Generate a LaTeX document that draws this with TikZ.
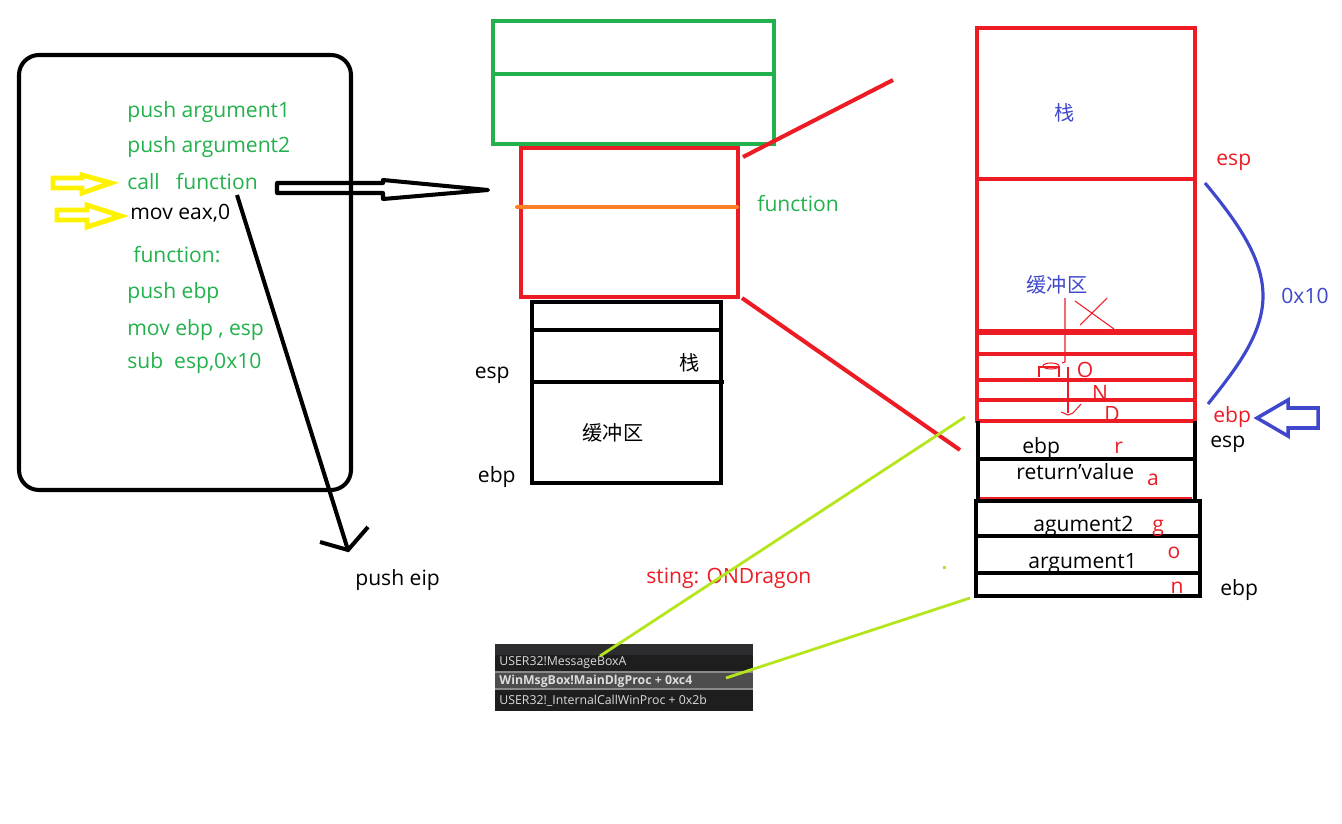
\documentclass[tikz,border=0pt]{standalone}
\usepackage{fontspec}
\setmainfont{Open Sans}
\newfontfamily\cjk{Noto Sans CJK SC}
\definecolor{pgreen}{HTML}{22B14C}
\definecolor{pred}{HTML}{ED1C24}
\definecolor{pblue}{HTML}{3F48CC}
\definecolor{porange}{HTML}{FF7F27}
\definecolor{plime}{HTML}{B5E61D}
\definecolor{pyellow}{HTML}{FFF200}
\definecolor{dbgbg}{HTML}{1E1E1E}
\definecolor{dbghead}{HTML}{2D2D30}
\definecolor{dbgsel}{HTML}{4D4D4D}
\definecolor{dbgline}{HTML}{8A8A8A}
\definecolor{dbgfg}{HTML}{DCDCDC}
\tikzset{
  pen/.style={line width=2.3pt},
  codetxt/.style={anchor=base west, inner sep=0pt, text=pgreen, font=\fontsize{12}{14}\selectfont},
  lbl/.style={inner sep=0pt, font=\fontsize{12}{14}\selectfont},
  redlbl/.style={lbl, text=pred},
  hanzi/.style={inner sep=0pt, font=\cjk\fontsize{11.5}{13}\selectfont},
  dbgrow/.style={anchor=west, inner sep=0pt, text=dbgfg, font=\fontsize{7}{8}\selectfont},
}
\begin{document}
\begin{tikzpicture}[x=0.02cm,y=-0.02cm]
  \useasboundingbox (0,0) rectangle (1342,824);
  % code listing
  \draw[pen, rounded corners=0.4cm] (19,55) rectangle (351,490);
  \node[codetxt] (pa1) at (127,118) {push argument1};
  \node[codetxt] (pa2) at (127,153) {push argument2};
  \node[codetxt] (cf) at (127,190) {call\ \ \ function};
  \node[codetxt, text=black] (mov) at (130,220) {mov eax,0};
  \node[codetxt] (fn) at (133,262) {function:};
  \node[codetxt] (pebp) at (127,298) {push ebp};
  \node[codetxt] (mebp) at (127,335) {mov ebp , esp};
  \node[codetxt] (sub) at (127,368) {sub\ \ esp,0x10};
  % yellow markers
  \draw[pyellow, line width=2.8pt] (53,178) -- (82,178) -- (82,175) -- (111,183) -- (82,193) -- (82,188) -- (53,188) -- cycle;
  \draw[pyellow, line width=2.8pt] (57,210) -- (87,210) -- (87,205) -- (121,216) -- (87,227) -- (87,220) -- (57,220) -- cycle;
  % call arrow
  \draw[pen, line join=round] (277,183) -- (383,183) -- (383,180) -- (488,190) -- (383,199) -- (383,193) -- (277,193) -- cycle;
  % return address
  \coordinate (eipa) at (237,195);
  \coordinate (eipb) at (348,550);
  \node[lbl, anchor=base west] (peip) at (355,585) {push eip};
  \draw[pen] (eipa) -- (eipb);
  \draw[pen] (320,542) -- (eipb) -- (368,527);
  % middle stack
  \draw[pen, pgreen] (493,21) rectangle (774,144);
  \draw[pen, pgreen] (493,74) -- (774,74);
  \draw[pen, pred] (521,148) rectangle (738,297);
  \draw[pen, porange, line cap=round] (517,207) -- (737,207);
  \node[codetxt] (fnlbl) at (757,212) {function};
  \draw[pen] (532,302) rectangle (721,483);
  \draw[pen] (532,330) -- (721,330);
  \draw[pen] (532,382) -- (724,382);
  \node[hanzi] (zmid) at (690,363) {栈};
  \node[hanzi] (bufmid) at (613,433) {缓冲区};
  \node[lbl, anchor=base east] (espmid) at (510,378) {esp};
  \node[lbl, anchor=base east] (ebpmid) at (516,482) {ebp};
  % zoom lines
  \coordinate (za) at (743,157);
  \coordinate (zb) at (893,80);
  \coordinate (zc) at (742,298);
  \coordinate (zd) at (960,450);
  \draw[pen, pred] (za) -- (zb);
  \draw[pen, pred] (zc) -- (zd);
  % right stack
  \draw[pen, pred] (977,28) rectangle (1195,331);
  \draw[pen, pred] (977,179) -- (1195,179);
  \node[hanzi, text=pblue] (zright) at (1065,113) {栈};
  \draw[pen, pred] (977,333) rectangle (1195,421);
  \foreach \yy in {354,380,400}
    \draw[pen, pred] (977,\yy) -- (1195,\yy);
  \node[hanzi, text=pblue] (bufright) at (1057,285) {缓冲区};
  % handwritten notes
  \draw[pred, line width=0.6pt] (1075,301) -- (1114,329);
  \draw[pred, line width=0.6pt] (1080,325) -- (1107,298);
  \draw[pred, line width=0.6pt] (1065,298) -- (1065,362) -- (1062,363);
  \draw[pred, line width=0.6pt] (1039,377) -- (1039,367) -- (1059,367) -- (1059,377);
  \draw[pred, line width=0.6pt] (1051,366) ellipse (8 and 3);
  \draw[pred, line width=0.6pt] (1068,367) -- (1068,413);
  \draw[pred, line width=0.6pt] (1061,412) -- (1068,415) -- (1073,413) -- (1081,404);
  \node[redlbl] (lO) at (1085,370) {O};
  \node[redlbl] (lN) at (1100,393) {N};
  \node[redlbl] (lD) at (1112,414) {D};
  \draw[pen] (978,421) -- (978,500);
  \draw[pen] (1195,421) -- (1195,500);
  \draw[pen] (978,459) -- (1195,459);
  \draw[pred, line width=0.6pt] (980,498) -- (1192,498);
  \draw[pen] (976,501) rectangle (1200,596);
  \draw[pen] (976,536) -- (1200,536);
  \draw[pen] (976,573) -- (1200,573);
  \node[lbl, anchor=base west] (sebp) at (1022,453) {ebp};
  \node[lbl, anchor=base west] (sret) at (1016,479) {return'value};
  \node[lbl, anchor=base west] (sarg2) at (1033,531) {agument2};
  \node[lbl, anchor=base west] (sarg1) at (1028,568) {argument1};
  \node[redlbl, anchor=base west] (lr) at (1114,453) {r};
  \node[redlbl] (la) at (1153,480) {a};
  \node[redlbl, anchor=base west] (lg) at (1152,531) {g};
  \node[redlbl] (lo) at (1174,553) {o};
  \node[redlbl] (ln) at (1177,588) {n};
  \node[lbl, anchor=base west] (espr) at (1210,447) {esp};
  \node[lbl, anchor=base west] (ebpr) at (1220,595) {ebp};
  \node[redlbl, anchor=base west] (espred) at (1216,166) {esp};
  \node[redlbl, anchor=base west] (ebpred) at (1213,422) {ebp};
  % size of the buffer
  \draw[pblue, line width=1.8pt] (1205,183) .. controls (1240,225) and (1263,260) .. (1263,296) .. controls (1263,335) and (1235,370) .. (1208,404);
  \node[lbl, text=pblue] (size) at (1305,296) {0x10};
  \draw[pblue, line width=2pt] (1257,418) -- (1288,400) -- (1288,408) -- (1318,408) -- (1318,428) -- (1288,428) -- (1288,436) -- cycle;
  % debugger call stack
  \node[redlbl, anchor=base west] (sting) at (646,583) {sting: ONDragon};
  \fill[dbgbg] (495,644) rectangle (753,711);
  \fill[dbghead] (495,644) rectangle (753,655);
  \fill[dbgsel] (495,672) rectangle (753,689);
  \draw[dbgline, line width=0.6pt] (495,672) -- (753,672);
  \draw[dbgline, line width=0.6pt] (495,689) -- (753,689);
  \node[dbgrow] (row1) at (499,663) {USER32!MessageBoxA};
  \node[dbgrow, font=\bfseries\fontsize{7}{8}\selectfont] (row2) at (499,681) {WinMsgBox!MainDlgProc + 0xc4};
  \node[dbgrow] (row3) at (499,701) {USER32!\_InternalCallWinProc + 0x2b};
  \coordinate (la1) at (965,417);
  \coordinate (la2) at (600,656);
  \coordinate (lb1) at (970,598);
  \coordinate (lb2) at (726,678);
  \draw[plime, line width=1.6pt] (la1) -- (la2);
  \draw[plime, line width=1.6pt] (lb1) -- (lb2);
  \fill[plime] (943,566) rectangle (946,569);
\end{tikzpicture}
\end{document}
